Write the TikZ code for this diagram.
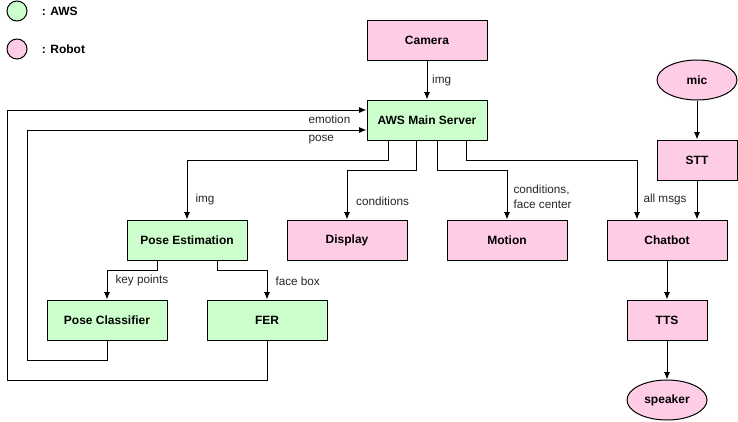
\documentclass[tikz,border=0pt]{standalone}
\usepackage{fontspec}
\setmainfont{Liberation Sans}
\usetikzlibrary{shapes.geometric, arrows.meta}
\definecolor{awsgreen}{HTML}{CCFFCC}
\definecolor{robotpink}{HTML}{FFCCE6}
\begin{document}
\begin{tikzpicture} [>={Latex[length=5.5pt,width=4.5pt]}, x=0.75pt, y=-0.75pt, line width=0.75pt,
	box/.style={draw, minimum width=90pt, minimum height=30pt, inner sep=0pt, font=\fontsize{9}{11}\selectfont\bfseries},
	smallbox/.style={box, minimum width=60pt},
	oval/.style={box, ellipse, minimum width=60pt},
	aws/.style={fill=awsgreen},
	robot/.style={fill=robotpink},
	lbl/.style={font=\fontsize{8.8}{11.2}\selectfont, text=black!85, inner sep=2pt}]
	\useasboundingbox (0,0) rectangle (738,421);
	% legend
	\node [draw, circle, aws, minimum size=15pt, inner sep=0pt] (legaws) at (17,11) {};
	\node [draw, circle, robot, minimum size=15pt, inner sep=0pt] (legrobot) at (17,49) {};
	\node [anchor=west, font=\fontsize{9}{11}\selectfont\bfseries] (legawstext) at (37,11) {: AWS};
	\node [anchor=west, font=\fontsize{9}{11}\selectfont\bfseries] (legrobottext) at (37,49) {: Robot};
	% blocks
	\node [box, robot] (camera) at (427,40) {Camera};
	\node [box, aws] (server) at (427,120) {AWS Main Server};
	\node [box, aws] (poseest) at (187,240) {Pose Estimation};
	\node [box, robot] (display) at (347,240) {Display};
	\node [box, robot] (motion) at (507,240) {Motion};
	\node [box, robot] (chatbot) at (667,240) {Chatbot};
	\node [box, aws] (posecls) at (107,320) {Pose Classifier};
	\node [box, aws] (fer) at (267,320) {FER};
	\node [oval, robot] (mic) at (697,80) {mic};
	\node [smallbox, robot] (stt) at (697,160) {STT};
	\node [smallbox, robot] (tts) at (667,320) {TTS};
	\node [oval, robot] (speaker) at (667,400) {speaker};
	% connectors
	\draw [->] (camera) -- node [lbl, right=1.5pt] {img} (server);
	\draw [->] ([xshift=-29.25pt]server.south) -- ++(0,20) -| node [lbl, right=4pt, pos=0.83] {img} (poseest);
	\draw [->] ([xshift=-8.25pt]server.south) -- ++(0,30) -| node [lbl, right=4.5pt, pos=0.81] {conditions} (display);
	\draw [->] ([xshift=7.5pt]server.south) -- ++(0,30) -| node [lbl, right=2.5pt, pos=0.77, align=left] {conditions,\\face center} (motion);
	\draw [->] ([xshift=29.25pt]server.south) -- ++(0,20) -| node [lbl, right=2.5pt, pos=0.83] {all msgs} ([xshift=-22.5pt]chatbot.north);
	\draw [->] (mic) -- (stt);
	\draw [->] (stt) -- ([xshift=22.5pt]chatbot.north);
	\draw [->] (chatbot) -- (tts);
	\draw [->] (tts) -- (speaker);
	\draw [->] ([xshift=-22.5pt]poseest.south) -- ++(0,10) -| node [lbl, right=4pt, pos=0.68] {key points} (posecls);
	\draw [->] ([xshift=22.5pt]poseest.south) -- ++(0,10) -| node [lbl, right=4pt, pos=0.68] {face box} (fer);
	\draw [->] (posecls.south) -- ++(0,20) -- ++(-80,0) |- node [lbl, below right, yshift=-1.5pt, pos=0.91] {pose} ([yshift=-7.5pt]server.west);
	\draw [->] (fer.south) -- ++(0,40) -- ++(-260,0) |- node [lbl, below right, yshift=-1.5pt, pos=0.915] {emotion} ([yshift=7.5pt]server.west);
\end{tikzpicture}
\end{document}
